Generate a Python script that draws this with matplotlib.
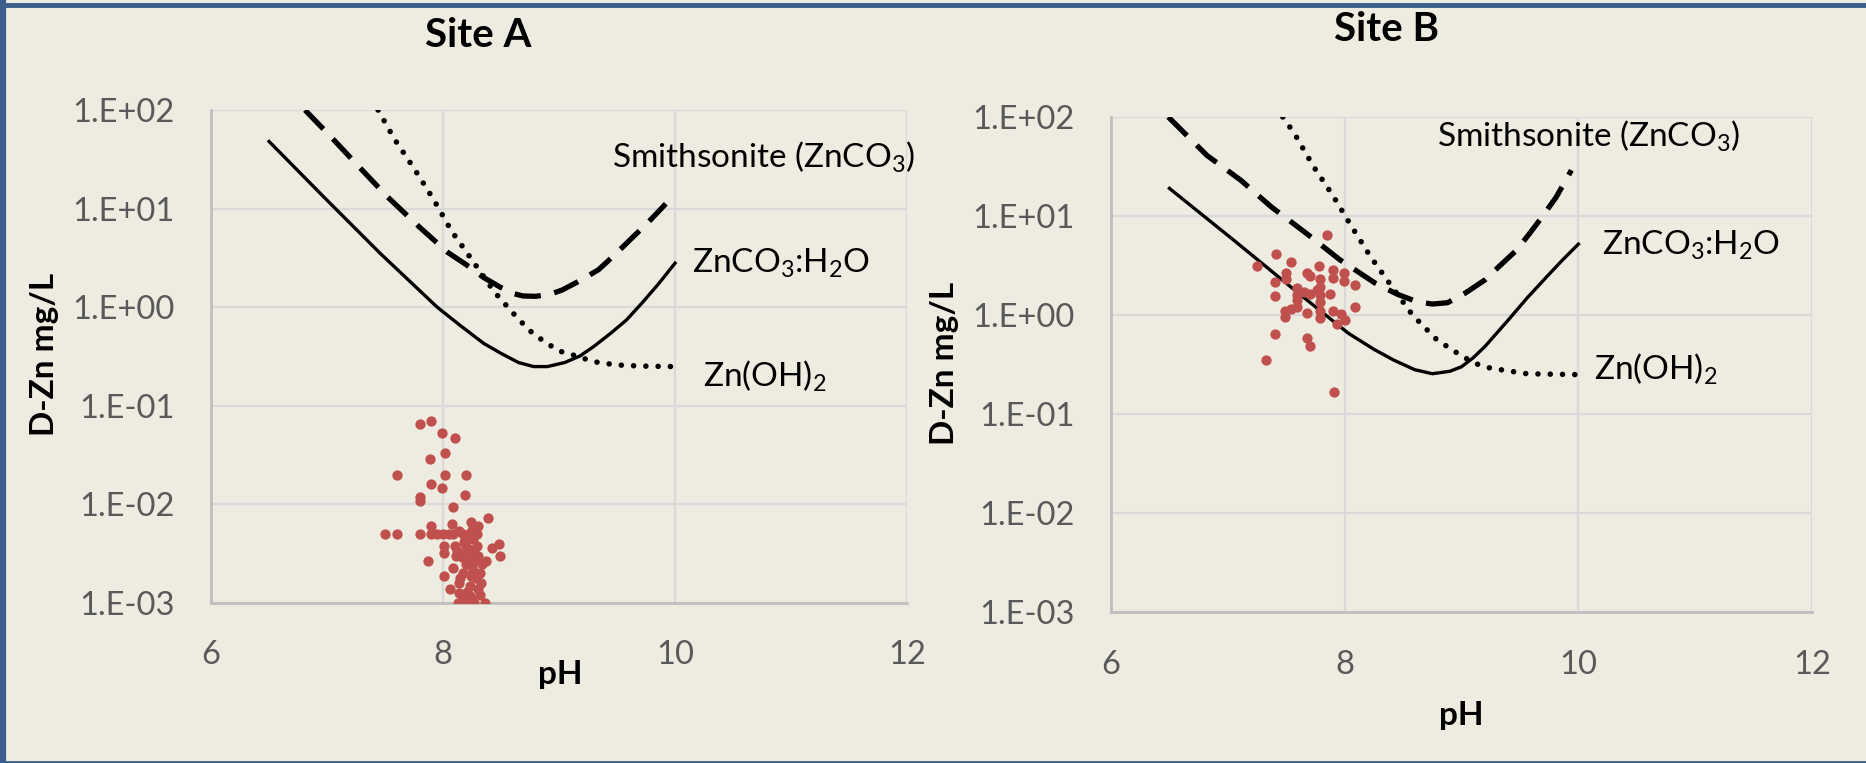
import matplotlib
matplotlib.use("Agg")
import matplotlib.pyplot as plt
from matplotlib.lines import Line2D

# ---- data ----
y_ticks = [1e-3, 1e-2, 1e-1, 1e0, 1e1, 1e2]
y_tick_labels = ["1.E-03", "1.E-02", "1.E-01", "1.E+00", "1.E+01", "1.E+02"]
x_ticks = [6, 8, 10, 12]

# Site A solubility curves
a_h2o_ph = [6.5, 6.97, 7.46, 7.95, 8.15, 8.35, 8.5, 8.65, 8.78, 8.9, 9.05, 9.18,
            9.3, 9.45, 9.58, 9.72, 9.86, 10.0]
a_h2o_zn = [48, 13.2, 3.5, 1.0, 0.65, 0.43, 0.34, 0.275, 0.25, 0.25, 0.275, 0.32,
            0.40, 0.55, 0.74, 1.12, 1.74, 2.8]
a_smith_ph = [6.81, 7.03, 7.27, 7.52, 7.79, 8.04, 8.2, 8.35, 8.5, 8.6, 8.69, 8.8,
              8.92, 9.03, 9.18, 9.34, 9.48, 9.61, 9.77, 9.92]
a_smith_zn = [100, 54, 27, 13.2, 6.6, 3.6, 2.7, 2.0, 1.58, 1.38, 1.3, 1.29,
              1.35, 1.5, 1.86, 2.4, 3.4, 4.8, 7.3, 11.2]
a_oh_ph = [7.44, 7.58, 7.76, 7.92, 8.07, 8.26, 8.44, 8.64, 8.75, 8.87, 9.0, 9.15,
           9.3, 9.49, 9.7, 9.98]
a_oh_zn = [100, 51, 24.5, 12.3, 6.0, 2.9, 1.44, 0.78, 0.575, 0.45, 0.36, 0.32,
           0.28, 0.26, 0.253, 0.25]

# Site B solubility curves
b_h2o_ph = [6.5, 7.05, 7.57, 8.03, 8.25, 8.42, 8.6, 8.75, 8.9, 9.0, 9.1, 9.2,
            9.4, 9.56, 9.73, 9.86, 10.0]
b_h2o_zn = [19, 5.7, 1.79, 0.655, 0.45, 0.35, 0.28, 0.255, 0.27, 0.30, 0.37, 0.48,
            0.89, 1.48, 2.44, 3.55, 5.2]
b_smith_ph = [6.49, 6.82, 7.11, 7.37, 7.67, 7.96, 8.26, 8.45, 8.62, 8.75, 8.88, 9.03,
              9.2, 9.33, 9.47, 9.58, 9.69, 9.81, 9.94]
b_smith_zn = [100, 41, 23, 12.4, 6.7, 3.6, 2.1, 1.62, 1.36, 1.29, 1.33, 1.66,
              2.26, 3.16, 4.5, 6.6, 9.8, 15.5, 29]
b_oh_ph = [7.47, 7.57, 7.73, 7.9, 8.06, 8.22, 8.4, 8.58, 8.79, 9.01, 9.13, 9.25,
           9.56, 9.97]
b_oh_zn = [100, 68, 32, 16, 7.8, 3.9, 1.96, 1.0, 0.56, 0.38, 0.32, 0.29,
           0.255, 0.25]

# Site A samples
a_ph = [7.80, 7.90, 7.99, 8.10, 8.02, 7.89, 7.60, 8.02, 8.20, 7.90, 7.99, 8.19,
        7.80, 7.80, 8.09, 8.39, 7.90, 8.08, 8.24, 8.30, 7.50, 7.60, 7.80, 7.90,
        8.00, 8.09, 8.17, 8.29, 8.14, 8.48, 8.42, 8.49, 8.37, 7.87, 8.01, 8.01,
        8.10, 8.22, 8.29, 8.11, 8.17, 8.23, 8.30, 8.09, 8.01, 8.17, 8.26, 8.32,
        8.06, 8.14, 8.23, 8.33, 8.14, 8.23, 8.32, 8.13, 8.20, 8.27, 8.36, 8.20,
        8.25, 8.15, 8.28, 8.18, 8.26, 8.21, 8.17, 8.24, 8.30, 8.12, 8.27, 8.05,
        7.95, 8.22, 8.25, 8.34, 8.28, 8.19, 8.24, 8.16]
a_zn = [0.065, 0.070, 0.053, 0.047, 0.033, 0.029, 0.020, 0.020, 0.020, 0.016, 0.0146, 0.0126,
        0.012, 0.0108, 0.0094, 0.0073, 0.006, 0.0063, 0.0066, 0.006, 0.005, 0.005, 0.005, 0.005,
        0.005, 0.005, 0.005, 0.005, 0.0054, 0.004, 0.0036, 0.003, 0.00265, 0.00265, 0.00376, 0.0032,
        0.00376, 0.0035, 0.00376, 0.003, 0.0032, 0.0028, 0.003, 0.00227, 0.00187, 0.002, 0.0021, 0.002,
        0.00139, 0.0016, 0.0015, 0.0016, 0.00126, 0.00117, 0.0012, 0.001, 0.001, 0.001, 0.001, 0.0025,
        0.0023, 0.0018, 0.0027, 0.0042, 0.0045, 0.0013, 0.0011, 0.0011, 0.0014, 0.0034, 0.0033, 0.005,
        0.005, 0.005, 0.0055, 0.0025, 0.0018, 0.0040, 0.0019, 0.0029]

# Site B samples
b_ph = [7.845, 7.41, 7.25, 7.54, 7.78, 7.50, 7.50, 7.68, 7.70, 7.90, 7.90, 7.99,
        7.99, 7.40, 7.79, 7.79, 8.09, 7.59, 7.59, 7.76, 7.70, 7.87, 7.79, 7.40,
        7.59, 7.79, 7.54, 7.49, 7.49, 7.68, 7.79, 7.79, 7.90, 7.97, 8.00, 7.93,
        8.09, 7.40, 7.68, 7.70, 7.33, 7.91, 7.59, 7.65]
b_zn = [6.4, 4.1, 3.1, 3.4, 3.1, 2.68, 2.3, 2.68, 2.5, 2.85, 2.35, 2.68,
        2.2, 2.17, 2.3, 1.93, 2.0, 1.86, 1.58, 1.79, 1.63, 1.63, 1.58, 1.56,
        1.42, 1.36, 1.14, 1.1, 0.96, 1.04, 1.1, 0.93, 1.1, 1.02, 0.88, 0.81,
        1.2, 0.65, 0.58, 0.49, 0.35, 0.165, 1.2, 1.7]

BG = "#EEEBE0"
RED = "#C0504D"
TICK = "#595959"

plt.rcParams["font.family"] = ["Lato", "DejaVu Sans"]
plt.rcParams["mathtext.default"] = "regular"


def draw_panel(ax, h2o, smith, oh, pts, labels):
    ax.set_facecolor(BG)
    ax.set_yscale("log")
    ax.set_xlim(6, 12)
    ax.set_ylim(1e-3, 1e2)
    ax.set_yticks(y_ticks)
    ax.set_yticklabels(y_tick_labels)
    ax.minorticks_off()
    ax.set_xticks(x_ticks)
    ax.tick_params(length=0, labelsize=23.5, labelcolor=TICK)
    ax.tick_params(axis="y", pad=26)
    ax.tick_params(axis="x", pad=27)
    ax.grid(True, color="#D9D9D9", lw=1.6)
    ax.set_axisbelow(True)
    for s in ["top", "right"]:
        ax.spines[s].set_visible(False)
    for s in ["left", "bottom"]:
        ax.spines[s].set_color("#BFBFBF")
        ax.spines[s].set_linewidth(2)

    ax.plot(h2o[0], h2o[1], color="black", lw=2.4, solid_joinstyle="round")
    ax.plot(smith[0], smith[1], color="black", lw=3.8,
            linestyle=(0, (5, 2.6)))
    ax.plot(oh[0], oh[1], color="black", lw=4.0,
            linestyle=(0, (0.01, 2.2)), dash_capstyle="round")
    ax.scatter(pts[0], pts[1], s=55, color=RED, zorder=3, linewidths=0)

    for txt, x, y in labels:
        ax.text(x, y, txt, fontsize=24, va="center", ha="left", color="black")


fig = plt.figure(figsize=(18.66, 7.63), dpi=100)
fig.patch.set_facecolor(BG)

ax1 = fig.add_axes([0.1131, 0.2097, 0.3730, 0.6461])
draw_panel(ax1, (a_h2o_ph, a_h2o_zn), (a_smith_ph, a_smith_zn), (a_oh_ph, a_oh_zn),
           (a_ph, a_zn),
           [("Smithsonite (ZnCO$_3$)", 9.46, 33),
            ("ZnCO$_3$:H$_2$O", 10.15, 2.8),
            ("Zn(OH)$_2$", 10.24, 0.2)])

ax2 = fig.add_axes([0.5954, 0.1979, 0.3757, 0.6488])
draw_panel(ax2, (b_h2o_ph, b_h2o_zn), (b_smith_ph, b_smith_zn), (b_oh_ph, b_oh_zn),
           (b_ph, b_zn),
           [("Smithsonite (ZnCO$_3$)", 8.79, 64),
            ("ZnCO$_3$:H$_2$O", 10.2, 5.0),
            ("Zn(OH)$_2$", 10.13, 0.28)])

fig.text(0.2565, 0.953, "Site A", fontsize=29, fontweight="bold", ha="center", va="center")
fig.text(0.7433, 0.961, "Site B", fontsize=29, fontweight="bold", ha="center", va="center")
fig.text(0.0238, 0.535, "D-Zn mg/L", fontsize=24, fontweight="bold", rotation=90,
         ha="center", va="center")
fig.text(0.5064, 0.5233, "D-Zn mg/L", fontsize=24, fontweight="bold", rotation=90,
         ha="center", va="center")
fig.text(0.300, 0.1166, "pH", fontsize=24, fontweight="bold", ha="center", va="center")
fig.text(0.783, 0.0629, "pH", fontsize=24, fontweight="bold", ha="center", va="center")

# blue frame (left, top, bottom)
border = "#3B5E8C"
fig.add_artist(Line2D([0.0016, 0.0016], [0, 1], transform=fig.transFigure, color=border, lw=4.5))
fig.add_artist(Line2D([0, 1], [0.9941, 0.9941], transform=fig.transFigure, color=border, lw=3.5))
fig.add_artist(Line2D([0, 1], [0.0016, 0.0016], transform=fig.transFigure, color=border, lw=2))

fig.savefig("out.png", dpi=100, facecolor=BG)
